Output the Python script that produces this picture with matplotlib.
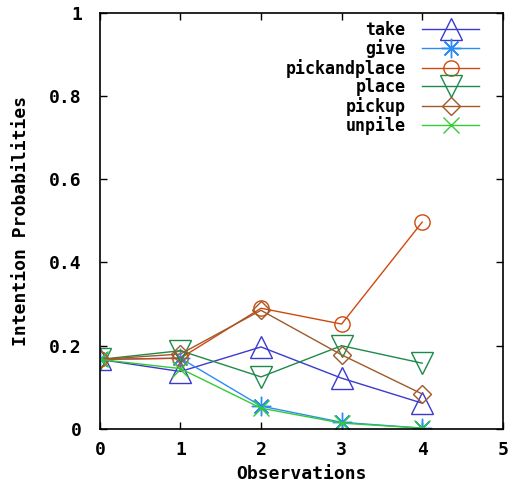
import matplotlib
matplotlib.use("Agg")
import matplotlib.pyplot as plt

observations = [0, 1, 2, 3, 4]
take = [0.167, 0.138, 0.197, 0.122, 0.062]
give = [0.167, 0.17, 0.055, 0.016, 0.002]
pickandplace = [0.167, 0.17, 0.29, 0.252, 0.497]
place = [0.167, 0.188, 0.125, 0.2, 0.158]
pickup = [0.167, 0.18, 0.285, 0.178, 0.084]
unpile = [0.167, 0.145, 0.05, 0.014, 0.002]

series = [
    ("take", take, "#3a3ad0", "^", 16),
    ("give", give, "#2a8cf5", (8, 2, 0), 14),
    ("pickandplace", pickandplace, "#cc4a10", "o", 11),
    ("place", place, "#1e8a4a", "v", 16),
    ("pickup", pickup, "#a05a28", "D", 9),
    ("unpile", unpile, "#33cc33", "x", 12),
]

plt.rcParams["font.family"] = ["DejaVu Sans Mono"]
plt.rcParams["font.weight"] = "bold"

fig = plt.figure(figsize=(5.12, 4.88), dpi=100)
ax = fig.add_axes([0.195, 0.121, 0.787, 0.853])

for name, vals, color, marker, ms in series:
    ax.plot(observations, vals, color=color, marker=marker, markersize=ms,
            markerfacecolor="none", markeredgecolor=color, markeredgewidth=1.0,
            linewidth=1.0, label=name)

ax.set_xlim(0, 5)
ax.set_ylim(0, 1)
ax.set_xticks([0, 1, 2, 3, 4, 5])
ax.set_yticks([0, 0.2, 0.4, 0.6, 0.8, 1])
ax.set_yticklabels(["0", "0.2", "0.4", "0.6", "0.8", "1"])
ax.tick_params(direction="in", top=True, right=True, length=5, labelsize=13, width=1)
ax.tick_params(axis="y", pad=13)
ax.tick_params(axis="x", pad=9)
for lbl in ax.get_xticklabels() + ax.get_yticklabels():
    lbl.set_fontweight("bold")
for sp in ax.spines.values():
    sp.set_linewidth(1.2)

ax.set_xlabel("Observations", fontsize=13, fontweight="bold", labelpad=4)
ax.set_ylabel("Intention Probabilities", fontsize=13, fontweight="bold", labelpad=14)

leg = ax.legend(loc="upper right", frameon=False, markerfirst=False,
                fontsize=12, handlelength=3.4, labelspacing=0.03,
                borderaxespad=0.0, borderpad=0.1, handletextpad=1.0)
leg.set_bbox_to_anchor((0.945, 0.985), transform=ax.transAxes)
for t in leg.get_texts():
    t.set_fontweight("bold")
    t.set_ha("right")

fig.savefig("out.png", dpi=100)
